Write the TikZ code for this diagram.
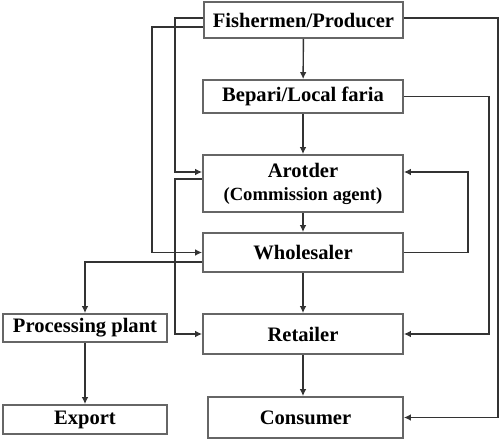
\documentclass[tikz,border=0pt]{standalone}
\usepackage{fontspec}
\setmainfont{Liberation Serif}
\usetikzlibrary{arrows.meta,calc}
\begin{document}
\begin{tikzpicture}[x=0.02cm,y=0.02cm,
  box/.style={draw=black!60, line width=1pt, fill=white, inner sep=0pt, align=center, font=\fontsize{11.7}{13}\selectfont\bfseries},
  arr/.style={draw=black!80, line width=.8pt, -{Latex[length=4pt,width=3.8pt]}}]
\useasboundingbox (0,0) rectangle (500,441);
\node[box, minimum width=3.98cm, minimum height=0.72cm] (fish) at (303.5,421) {Fishermen/Producer};
\node[box, minimum width=4cm, minimum height=0.66cm] (bepari) at (303,344.5) {Bepari/Local faria};
\node[box, minimum width=4cm, minimum height=1.14cm] (arot) at (303,257.5) {Arotder\\{\fontsize{10.6}{13}\selectfont(Commission agent)}};
\node[box, minimum width=4cm, minimum height=0.78cm] (whole) at (303,188.5) {Wholesaler};
\node[box, minimum width=3.28cm, minimum height=0.56cm] (proc) at (85,113) {Processing plant};
\node[box, minimum width=4cm, minimum height=0.8cm] (retail) at (303,107) {Retailer};
\node[box, minimum width=3.28cm, minimum height=0.58cm] (export) at (85,21.5) {Export};
\node[box, minimum width=3.9cm, minimum height=0.82cm] (consumer) at (305.5,23.5) {Consumer};
\draw[arr] (fish) -- (bepari);
\draw[arr] (bepari) -- (arot);
\draw[arr] (arot) -- (whole);
\draw[arr] (whole) -- (retail);
\draw[arr] (retail.south) -- (retail.south |- consumer.north);
\draw[arr] (proc) -- (export);
\draw[arr] ($(fish.west)+(0,2)$) -- ++(-28,0) |- ($(arot.west)+(0,11.5)$);
\draw[arr] ($(fish.west)+(0,-7)$) -- ++(-51,0) |- (whole.west);
\draw[arr] ($(fish.east)+(0,2)$) -- ++(94,0) |- (consumer.east);
\draw[arr] (bepari.east) -- ++(85,0) |- (retail.east);
\draw[arr] (whole.east) -- ++(64,0) |- ($(arot.east)+(0,11.5)$);
\draw[arr] ($(arot.west)+(0,4.5)$) -- ++(-27,0) |- (retail.west);
\draw[arr] ($(whole.west)+(0,-9.5)$) -| (proc.north);
\end{tikzpicture}
\end{document}
